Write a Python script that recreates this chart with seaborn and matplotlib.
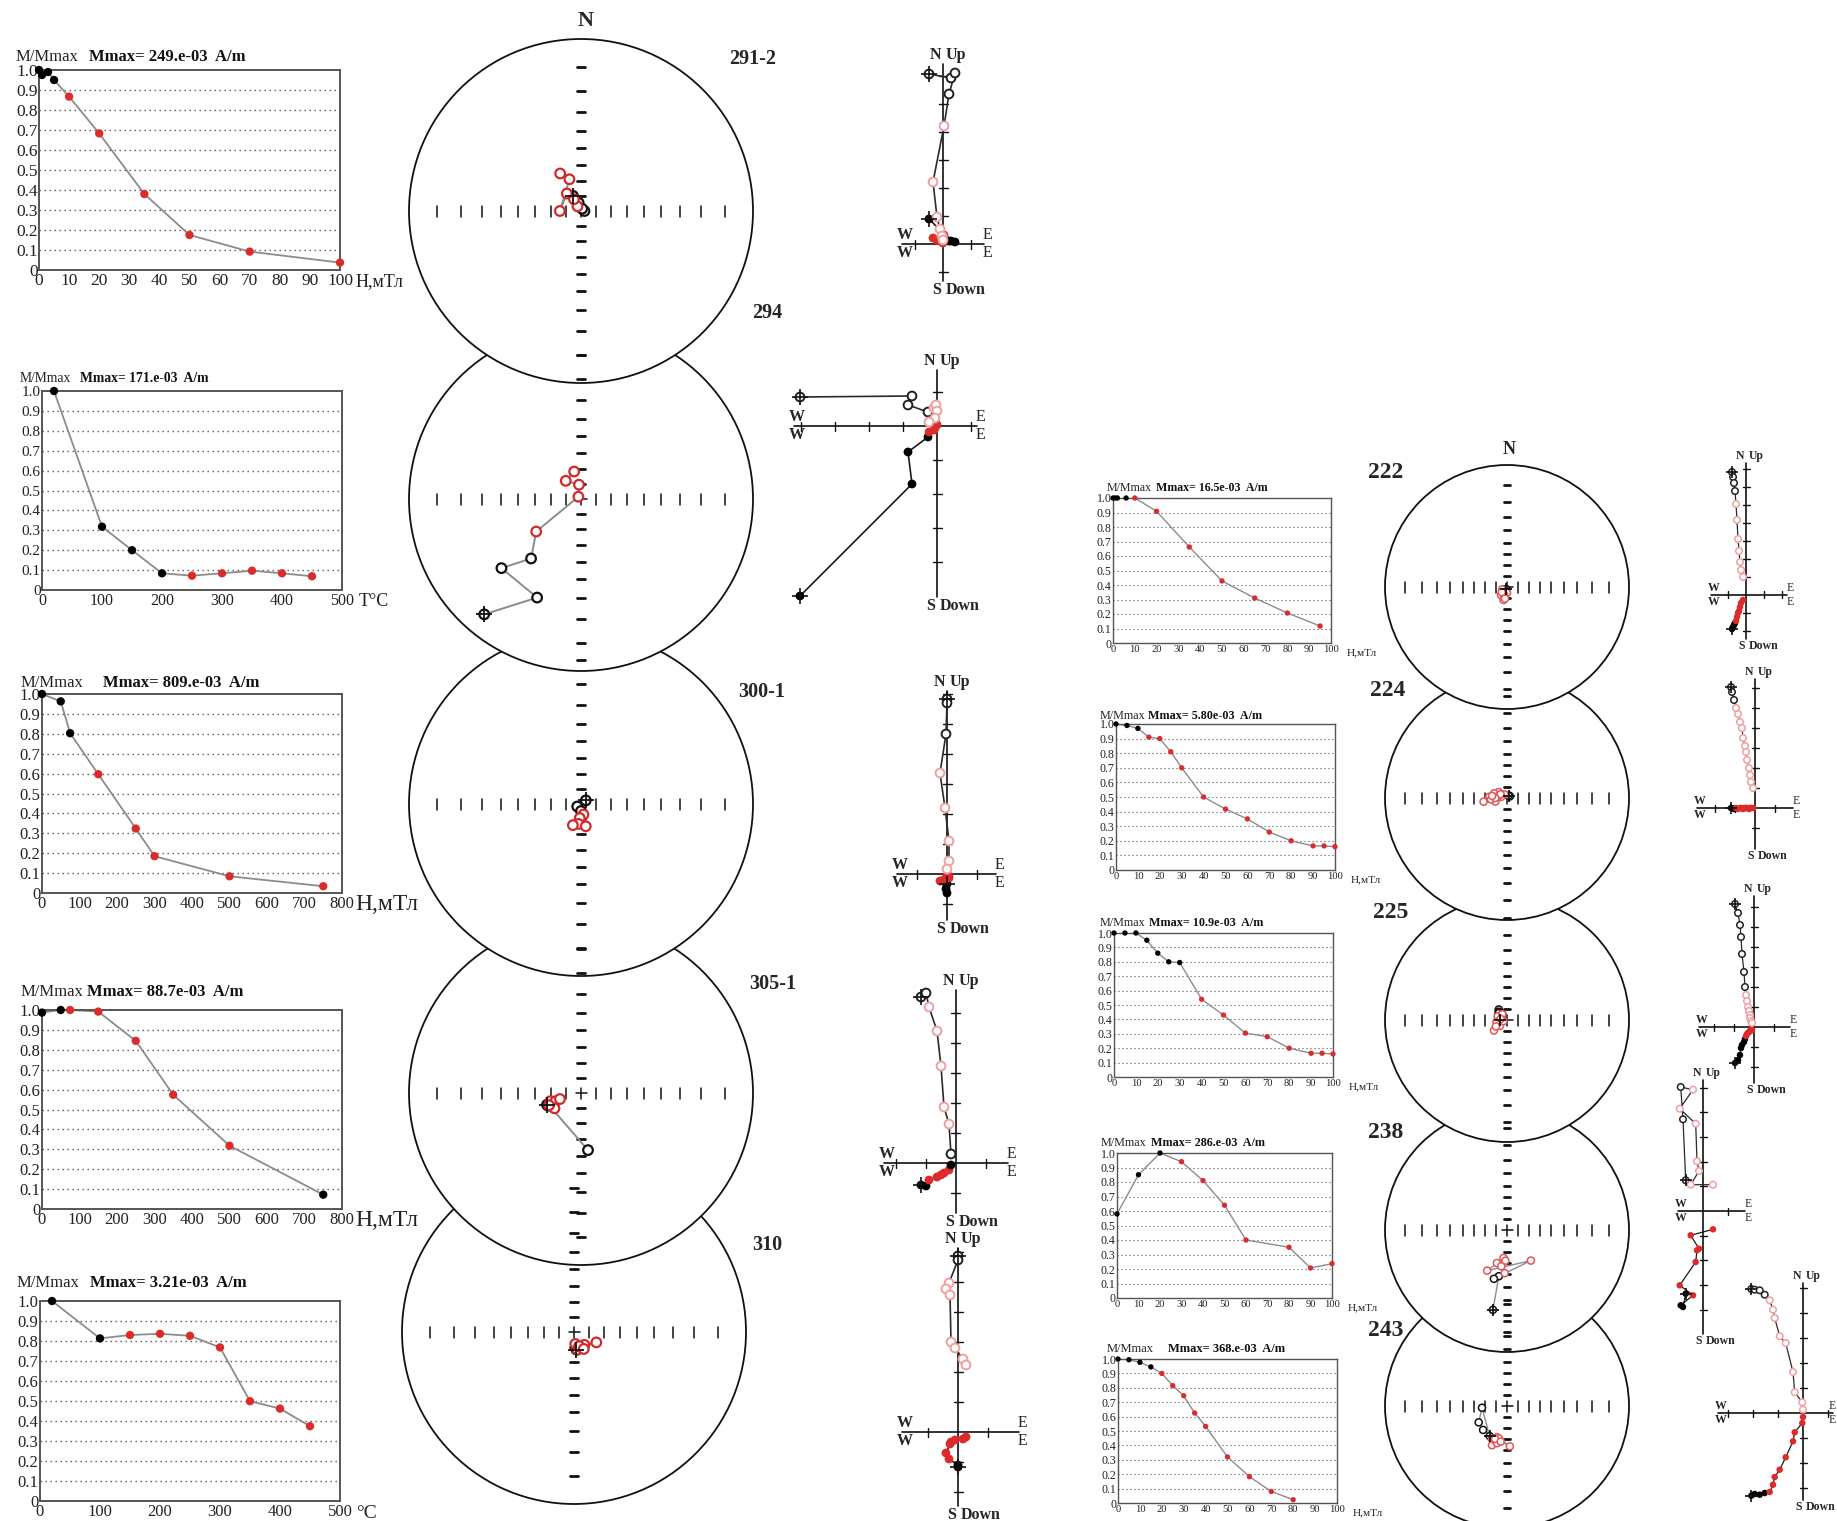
import numpy as np
import pandas as pd
import matplotlib
matplotlib.use("Agg")
import matplotlib.pyplot as plt
from matplotlib.patches import Circle
import seaborn as sns

W, H = 1837, 1521
sns.set_theme(style="white")
plt.rcParams['font.family'] = ['Liberation Serif', 'DejaVu Serif']

RED = '#dc2b2b'
LINE_GREY = '#8c8c8c'

# ---------------- demagnetisation curves (M/Mmax vs step) ----------------
d1_step = [0, 1, 3, 5, 10, 20, 35, 50, 70, 100]
d1_m = [1.0, 0.975, 0.99, 0.95, 0.867, 0.683, 0.38, 0.175, 0.092, 0.037]
d1_stage = ["k", "k", "k", "k", "r", "r", "r", "r", "r", "r"]

d2_step = [20, 100, 150, 200, 250, 300, 350, 400, 450]
d2_m = [1.0, 0.318, 0.2, 0.084, 0.072, 0.084, 0.097, 0.084, 0.069]
d2_stage = ["k", "k", "k", "k", "r", "r", "r", "r", "r"]

d3_step = [0, 50, 75, 150, 250, 300, 500, 750]
d3_m = [1.0, 0.963, 0.803, 0.597, 0.324, 0.185, 0.084, 0.034]
d3_stage = ["k", "k", "k", "r", "r", "r", "r", "r"]

d4_step = [0, 50, 75, 150, 250, 350, 500, 750]
d4_m = [0.987, 1.0, 1.0, 0.992, 0.845, 0.574, 0.318, 0.072]
d4_stage = ["k", "k", "r", "r", "r", "r", "r", "k"]

d5_step = [20, 100, 150, 200, 250, 300, 350, 400, 450]
d5_m = [1.0, 0.813, 0.83, 0.836, 0.826, 0.768, 0.499, 0.462, 0.374]
d5_stage = ["k", "k", "r", "r", "r", "r", "r", "r", "r"]

d6_step = [0, 1, 2, 6, 10, 20, 35, 50, 65, 80, 95]
d6_m = [1.0, 1.0, 1.0, 1.0, 1.0, 0.908, 0.662, 0.428, 0.31, 0.207, 0.117]
d6_stage = ["k", "k", "k", "k", "r", "r", "r", "r", "r", "r", "r"]

d7_step = [0, 5, 10, 15, 20, 25, 30, 40, 50, 60, 70, 80, 90, 95, 100]
d7_m = [1.0, 0.99, 0.97, 0.91, 0.90, 0.81, 0.70, 0.50, 0.417, 0.35, 0.26, 0.20, 0.165, 0.165, 0.16]
d7_stage = ["k", "k", "k"] + ["r"] * 12

d8_step = [0, 5, 10, 15, 20, 25, 30, 40, 50, 60, 70, 80, 90, 95, 100]
d8_m = [1.0, 1.0, 1.0, 0.95, 0.86, 0.80, 0.795, 0.54, 0.43, 0.305, 0.28, 0.20, 0.165, 0.165, 0.16]
d8_stage = ["k"] * 7 + ["r"] * 8

d9_step = [0, 10, 20, 30, 40, 50, 60, 80, 90, 100]
d9_m = [0.58, 0.85, 1.0, 0.94, 0.81, 0.64, 0.40, 0.35, 0.207, 0.237]
d9_stage = ["k", "k", "k", "r", "r", "r", "r", "r", "r", "r"]

d10_step = [0, 5, 10, 15, 20, 25, 30, 35, 40, 50, 60, 70, 80]
d10_m = [1.0, 0.995, 0.977, 0.945, 0.90, 0.815, 0.745, 0.625, 0.532, 0.32, 0.183, 0.08, 0.023]
d10_stage = ["k"] * 4 + ["r"] * 9

mmax_texts = ["Mmax= 249.e-03  A/m", "Mmax= 171.e-03  A/m", "Mmax= 809.e-03  A/m",
              "Mmax= 88.7e-03  A/m", "Mmax= 3.21e-03  A/m", "Mmax= 16.5e-03  A/m",
              "Mmax= 5.80e-03  A/m", "Mmax= 10.9e-03  A/m", "Mmax= 286.e-03  A/m",
              "Mmax= 368.e-03  A/m"]
unit_texts = ["Н,мТл", "T°C", "Н,мТл", "Н,мТл", "°C", "Н,мТл", "Н,мТл", "Н,мТл", "Н,мТл", "Н,мТл"]
sample_names = ["291-2", "294", "300-1", "305-1", "310", "222", "224", "225", "238", "243"]

# ---------------- stereonet directions (declination, inclination) ----------------
s1_dec = [332, 344, 90, 27, 323, 329, 321, 270, 340, 331]
s1_inc = [-78.6, -84.3, -87.7, -88.3, -86.1, -80.9, -75.1, -76, -67.8, -62]
s2_dec = [220, 204, 229, 220, 234, 311, 352, 320, 346]
s2_inc = [-7.6, -25.8, -27, -41.4, -54.3, -87.7, -80.4, -74.3, -71.3]
s3_dec = [53, 236, 180, 167, 185, 187, 201, 168]
s3_inc = [-86, -87, -85.3, -82.8, -80.6, -76.7, -75, -74.9]
s4_dec = [251, 249, 255, 252, 254, 240, 249, 173]
s4_inc = [-66.4, -66.8, -69.3, -72.2, -75.5, -69.8, -67.5, -53]
s5_dec = [172, 171, 174, 169, 155, 141, 115, 160, 150]
s5_inc = [-78.2, -79.7, -82, -78, -78.8, -79, -73.7, -80, -77]
s6_dec = [207, 220, 200, 210, 243, 180, 216, 195, 200, 225, 190]
s6_inc = [-87.5, -87, -88, -86.5, -85, -84.5, -80.5, -77.4, -82, -83, -79]
s7_dec = [45, 60, 30, 326, 281, 306, 290, 274, 261, 253, 265, 285, 300, 270, 278]
s7_inc = [-86.9, -87, -87.5, -86, -84.4, -80.5, -77.2, -73.5, -68, -78.6, -75, -82, -83, -79, -76]
s8_dec = [270, 322, 315, 300, 310, 290, 321, 291, 230, 231, 252, 321, 260, 240, 280]
s8_inc = [-83.4, -77.5, -79, -81, -80, -82, -83, -80.6, -81.4, -74.4, -86.5, -83, -80, -78, -84]
s9_dec = [190, 190, 195, 142, 206, 187, 197, 183, 189, 183]
s9_inc = [-22.8, -47.9, -45, -54.7, -49.3, -64, -58.4, -61.7, -56.5, -51]
s10_dec = [210, 266, 240, 225, 176, 198, 194, 201, 198, 205, 195, 200, 190]
s10_inc = [-58.2, -66.8, -60, -59, -53.3, -60, -59.4, -52, -56.4, -57, -55, -58, -57]

# ---------------- Zijderveld components (E, N, Up; arbitrary units) ----------------
z1_E = [-14, 8, 12, 6, 1, -10, -6, -3, -1, 0]
z1_N = [25, 3, 2, 3, 9, 6, 4, 3, 2, 1]
z1_U = [170, 166, 171, 150, 118, 62, 27, 15, 8, 4]
z2_E = [-137, -25, -29, -9, -3, -1, 0, -2, -8]
z2_N = [-170, -58, -26, -11, -4, 3, 1, -2, -6]
z2_U = [29, 30, 21, 14, 18, 21, 15, 8, 4]
z3_E = [0, 0, -1, -7, -2, 2, 2, 0]
z3_N = [-10, -19, -15, -7, -5, -2, -4, -1]
z3_U = [175, 171, 140, 101, 66, 33, 13, 5]
z4_E = [-35, -30, -27, -19, -15, -12, -7, -5]
z4_N = [-22, -23, -17, -14, -12, -10, -7, -2]
z4_U = [166, 170, 156, 132, 97, 56, 39, 9]
z5_E = [0, 0, -9, -12, -8, -7, -3, 5, 8]
z5_N = [-35, -33, -27, -21, -12, -10, -8, -7, -5]
z5_U = [176, 172, 149, 143, 137, 90, 84, 73, 67]
z6_E = [-14, -13, -12, -11, -10, -9, -8, -7, -6, -5, -3]
z6_N = [-34, -32, -30, -28, -26, -22, -18, -16, -12, -8, -5]
z6_U = [123, 118, 112, 104, 91, 75, 56, 44, 33, 25, 18]
z7_E = [-24, -23, -21, -19, -17, -15, -13, -12, -10, -9, -8, -6, -5, -4, -2]
z7_N = [0, 0, -1, 0, -1, 0, 0, -1, 0, 0, 0, -1, 0, 0, 0]
z7_U = [121, 116, 108, 100, 94, 86, 80, 70, 62, 56, 48, 40, 33, 26, 20]
z8_E = [-19, -16, -14, -13, -12, -10, -9, -8, -7, -6, -5, -4, -4, -3, -2]
z8_N = [-36, -33, -28, -21, -18, -15, -12, -9, -7, -6, -5, -4, -4, -3, -3]
z8_U = [123, 114, 102, 90, 73, 55, 40, 32, 26, 20, 16, 12, 9, 6, 4]
z9_E = [-17.3, -20, -22.3, -10, -23.3, -7.3, -6, -4, -12.3, 10]
z9_N = [-82.7, -96, -94.3, -84.3, -74.3, -51, -39.3, -37.7, -24.3, -18.3]
z9_U = [30.7, 91.7, 124, 121.3, 102.3, 87.3, 49.7, 40, 26.3, 26.3]
z10_E = [-51.7, -48.3, -43.3, -38.3, -33.3, -30, -28.3, -23.3, -17.3, -10, -8.3, -0.7, 0]
z10_N = [-82.7, -81, -81.7, -80, -79, -71.7, -64, -56.7, -44.3, -28.3, -19.3, -10, -4]
z10_U = [124, 123.3, 122.7, 118.3, 112.7, 103.3, 95, 76.7, 70, 41, 20.7, 10.7, 3.3]

demag_data = [(d1_step, d1_m, d1_stage), (d2_step, d2_m, d2_stage), (d3_step, d3_m, d3_stage),
              (d4_step, d4_m, d4_stage), (d5_step, d5_m, d5_stage), (d6_step, d6_m, d6_stage),
              (d7_step, d7_m, d7_stage), (d8_step, d8_m, d8_stage), (d9_step, d9_m, d9_stage),
              (d10_step, d10_m, d10_stage)]
stereo_data = [(s1_dec, s1_inc), (s2_dec, s2_inc), (s3_dec, s3_inc), (s4_dec, s4_inc),
               (s5_dec, s5_inc), (s6_dec, s6_inc), (s7_dec, s7_inc), (s8_dec, s8_inc),
               (s9_dec, s9_inc), (s10_dec, s10_inc)]
zij_data = [(z1_E, z1_N, z1_U), (z2_E, z2_N, z2_U), (z3_E, z3_N, z3_U), (z4_E, z4_N, z4_U),
            (z5_E, z5_N, z5_U), (z6_E, z6_N, z6_U), (z7_E, z7_N, z7_U), (z8_E, z8_N, z8_U),
            (z9_E, z9_N, z9_U), (z10_E, z10_N, z10_U)]

# ---------------- layout (pixels) ----------------
# box, xmax, xstep, title_y, x_label1, x_label2, unit offset, title fs, ytick fs, xtick fs, unit fs
demag_layout = [
    ((39, 70, 340, 270), 100, 10, 57, 16, 89, 16, 12, 12.5, 12.5, 13),
    ((42, 391, 342, 590), 500, 100, 379, 20, 80, 17, 9.8, 11, 11.5, 13),
    ((42, 694, 342, 893), 800, 100, 683, 21, 103, 13, 12, 12, 12, 17),
    ((42, 1010, 342, 1209), 800, 100, 992, 21, 87, 13, 12, 12, 12, 17),
    ((40, 1301, 340, 1501), 500, 100, 1283, 17, 90, 16, 12, 12, 12, 14),
    ((1113, 498, 1331, 643), 100, 10, 488, 1107, 1156, 16, 8.6, 8.6, 7.6, 8.2),
    ((1116, 724, 1335, 870), 100, 10, 716, 1100, 1148, 16, 8.7, 8.6, 7.6, 8.2),
    ((1114, 933, 1333, 1077), 100, 10, 923, 1100, 1149, 16, 8.7, 8.6, 7.6, 8.2),
    ((1117, 1153, 1332, 1298), 100, 10, 1143, 1101, 1151, 16, 8.7, 8.6, 7.6, 8.2),
    ((1118, 1359, 1337, 1503), 100, 10, 1349, 1107, 1168, 16, 9.0, 8.6, 7.6, 8.2),
]
stereo_layout = [(581, 211, 172), (581, 499, 172), (581, 804, 172), (581, 1093, 172), (574, 1332, 172),
                 (1507, 587, 122), (1507, 798, 122), (1507, 1020, 122), (1507, 1230, 122), (1507, 1406, 122)]
label_pos = [(753, 59), (767, 313), (762, 692), (773, 984), (767, 1245),
             (1386, 473), (1388, 691), (1391, 912), (1386, 1133), (1386, 1330)]
zij_layout = [  # origin x, origin y, x-left, x-right, y-bottom, y-top, tick step
    (943, 244, -41, 41, -37, 180, 28), (937, 426, -143, 40, -171, 56, 34),
    (947, 874, -50, 49, -46, 183, 30), (956, 1163, -72, 52, -50, 173, 30),
    (958, 1432, -56, 61, -74, 184, 30), (1746, 595, -35, 41, -44, 132, 18),
    (1755, 808, -58, 38, -41, 129, 20), (1754, 1027, -55, 36, -56, 131, 20),
    (1703, 1211, -25, 42, -123, 131, 24.7), (1803, 1413, -85, 30, -87, 130, 25)]

fig = plt.figure(figsize=(W / 100, H / 100), dpi=100)
fig.patch.set_facecolor('white')


def px_axes(x0, y0, x1, y1, z=1):
    ax = fig.add_axes([x0 / W, 1 - y1 / H, (x1 - x0) / W, (y1 - y0) / H])
    ax.set_zorder(z)
    return ax


bg = px_axes(0, 0, W, H, z=0)
bg.set_xlim(0, W)
bg.set_ylim(H, 0)
bg.axis('off')

PAL = {"k": "black", "r": RED}

# ---------------- demag panels ----------------
for i, (lay, (st, mm, sg)) in enumerate(zip(demag_layout, demag_data)):
    box, xmax, xstep, ty, tx1, tx2, uoff, tfs, yfs, xfs, ufs = lay
    small = i >= 5
    ax = px_axes(*box, z=2)
    ax.set_facecolor('white')
    df = pd.DataFrame({"step": st, "m": mm, "stage": sg})
    sns.lineplot(data=df, x="step", y="m", sort=False, estimator=None, color=LINE_GREY,
                 linewidth=1.0 if small else 1.3, ax=ax, zorder=2)
    sns.scatterplot(data=df, x="step", y="m", hue="stage", palette=PAL, s=15 if small else 36,
                    edgecolor='none', legend=False, ax=ax, zorder=3, clip_on=False)
    ax.set_xlim(0, xmax)
    ax.set_ylim(0, 1.0)
    ax.set_xlabel('')
    ax.set_ylabel('')
    yt = np.round(np.arange(0, 1.01, 0.1), 1)
    ax.set_yticks(yt)
    ax.set_yticklabels(['0'] + [f"{v:.1f}" for v in yt[1:]])
    xt = np.arange(0, xmax + 1, xstep)
    ax.set_xticks(xt)
    ax.set_xticklabels([str(int(v)) for v in xt])
    ax.tick_params(axis='y', length=0, pad=1 if small else 1.0, labelsize=yfs, colors='#222')
    ax.tick_params(axis='x', length=0, pad=1.5 if small else 2.5, labelsize=xfs, colors='#222')
    for v in yt[1:-1]:
        ax.axhline(v, ls=(0, (1, 2.6)), color='#555', lw=0.8 if small else 1.0, zorder=1)
    for sp in ax.spines.values():
        sp.set_visible(True)
        sp.set_color('#555')
        sp.set_linewidth(1.0 if small else 1.4)
    bg.text(tx1, ty, "M/Mmax", fontsize=tfs, va='center', ha='left', color='#222')
    bg.text(tx2, ty, mmax_texts[i], fontsize=tfs, va='center', ha='left', fontweight='bold', color='#111')
    ux = box[2] + uoff
    uy = box[3] + (10 if small else 12)
    bg.text(ux, uy, unit_texts[i], fontsize=ufs, va='center', ha='left', color='#222')

# ---------------- stereonets ----------------
for i, ((cx, cy, R), (dec, inc)) in enumerate(zip(stereo_layout, stereo_data)):
    small = i >= 5
    zc = 20 - (i % 5)
    bg.add_patch(Circle((cx, cy), R, facecolor='white', edgecolor='#111', lw=1.3, zorder=zc))
    ax = px_axes(cx - R, cy - R, cx + R, cy + R, z=3)
    ax.set_xlim(-1, 1)
    ax.set_ylim(-1, 1)
    ax.axis('off')
    trow = 5.5 / R
    tcol = (4.2 if not small else 3.4) / R
    for k in np.tan(np.radians(np.arange(5, 41, 5))):
        for sgn in (-1, 1):
            ax.plot([sgn * k, sgn * k], [-trow, trow], color='#111', lw=1.1)
            ax.plot([-tcol, tcol], [sgn * k, sgn * k], color='#111', lw=2.0)
    ax.plot([-trow, trow], [0, 0], color='#111', lw=1.1)
    ax.plot([0, 0], [-trow, trow], color='#111', lw=1.1)
    dec = np.asarray(dec, float)
    inc = np.asarray(inc, float)
    stage = np.array(demag_data[i][2])
    r = np.tan(np.radians(90 - np.abs(inc)) / 2)
    x = r * np.sin(np.radians(dec))
    y = r * np.cos(np.radians(dec))
    sns.lineplot(x=x, y=y, sort=False, estimator=None, color=LINE_GREY,
                 linewidth=1.0 if small else 1.4, ax=ax, zorder=3)
    up = inc < 0
    red_edge = '#e05555' if small else '#d02a2a'
    edges = ['#111' if s == 'k' else red_edge for s in stage[up]]
    ms = 26 if small else 48
    sns.scatterplot(x=x[up], y=y[up], color='white', edgecolor=edges, linewidth=1.1 if small else 1.6,
                    s=ms, ax=ax, zorder=4, clip_on=False, legend=False)
    if (~up).any():
        sns.scatterplot(x=x[~up], y=y[~up], hue=stage[~up], palette=PAL, s=ms, edgecolor='none',
                        ax=ax, zorder=4, clip_on=False, legend=False)
    ax.scatter(x[:1], y[:1], marker='+', s=ms * 2.6, color='#111', lw=1.3, zorder=5, clip_on=False)
    lx, ly = label_pos[i]
    bg.text(lx, ly, sample_names[i], fontsize=17 if small else 14.5, fontweight='bold',
            ha='center', va='center', zorder=30)

bg.text(586, 21, "N", fontsize=16, fontweight='bold', ha='center', va='center', zorder=30)
bg.text(1509, 450, "N", fontsize=13, fontweight='bold', ha='center', va='center', zorder=30)

# ---------------- Zijderveld diagrams ----------------
for i, ((ox, oy, xl, xr, yb, ytop, tk), (E, N, U)) in enumerate(zip(zij_layout, zij_data)):
    small = i >= 5
    ax = px_axes(ox + xl, oy - ytop, ox + xr, oy - yb, z=3)
    ax.set_xlim(xl, xr)
    ax.set_ylim(yb, ytop)
    ax.axis('off')
    ax.plot([xl, xr], [0, 0], color='#111', lw=1.2, clip_on=False, zorder=1)
    ax.plot([0, 0], [yb, ytop], color='#111', lw=1.2, clip_on=False, zorder=1)
    tl = 3.5 if small else 4.5
    for t in np.arange(tk, max(-xl, xr) + 1, tk):
        for v in (t, -t):
            if xl + 2 < v < xr - 2:
                ax.plot([v, v], [-tl, tl], color='#111', lw=1.0, clip_on=False)
    for t in np.arange(tk, max(-yb, ytop) + 1, tk):
        for v in (t, -t):
            if yb + 2 < v < ytop - 2:
                ax.plot([-tl, tl], [v, v], color='#111', lw=1.0, clip_on=False)
    E = np.asarray(E, float)
    N = np.asarray(N, float)
    U = np.asarray(U, float)
    stage = np.array(demag_data[i][2])
    lw = 0.9 if small else 1.2
    sns.lineplot(x=E, y=N, sort=False, estimator=None, color='#1a1a1a', linewidth=lw, ax=ax, zorder=2)
    sns.lineplot(x=E, y=U, sort=False, estimator=None, color='#2a2a2a', linewidth=lw, ax=ax, zorder=2)
    ms = 22 if small else 40
    sns.scatterplot(x=E, y=N, hue=stage, palette=PAL, s=ms, edgecolor='none', ax=ax, zorder=3,
                    clip_on=False, legend=False)
    edges = ['#222' if s == 'k' else '#f0a0a0' for s in stage]
    sns.scatterplot(x=E, y=U, color='white', edgecolor=edges, linewidth=1.1 if small else 1.4, s=ms,
                    ax=ax, zorder=3, clip_on=False, legend=False)
    ax.scatter(E[:1], N[:1], marker='+', s=ms * 3, color='#111', lw=1.2, zorder=4, clip_on=False)
    ax.scatter(E[:1], U[:1], marker='+', s=ms * 3, color='#111', lw=1.2, zorder=4, clip_on=False)
    fs = 8.5 if small else 11.5
    fw = 'bold'
    ax.text(-1.5, ytop + 1, "N", fontsize=fs, fontweight=fw, ha='right', va='bottom')
    ax.text(2.5, ytop + 1, "Up", fontsize=fs, fontweight=fw, ha='left', va='bottom')
    ax.text(-1.5, yb - 1, "S", fontsize=fs, fontweight=fw, ha='right', va='top')
    ax.text(2.5, yb - 1, "Down", fontsize=fs, fontweight=fw, ha='left', va='top')
    ax.text(xl + 3, 1, "W", fontsize=fs, fontweight=fw, ha='center', va='bottom')
    ax.text(xl + 3, -1, "W", fontsize=fs, fontweight=fw, ha='center', va='top')
    ex = xr + 3 if i != 9 else xr - 1
    ax.text(ex, 1, "E", fontsize=fs, ha='center', va='bottom')
    ax.text(ex, -1, "E", fontsize=fs, ha='center', va='top')

fig.savefig("out.png", dpi=100, facecolor='white')
